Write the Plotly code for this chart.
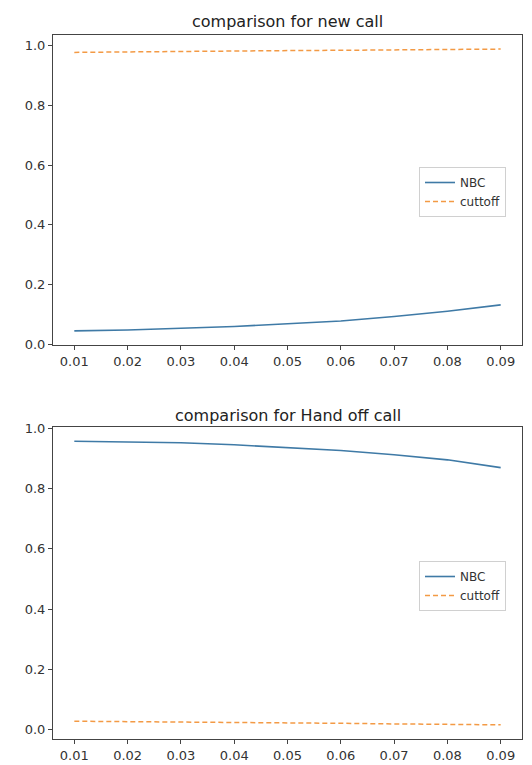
import plotly.graph_objects as go

x_vals = [0.01, 0.02, 0.03, 0.04, 0.05, 0.06, 0.07, 0.08, 0.09]
nbc_new = [0.045, 0.048, 0.054, 0.060, 0.069, 0.078, 0.093, 0.111, 0.132]
cut_new = [0.977, 0.979, 0.980, 0.982, 0.983, 0.984, 0.985, 0.987, 0.988]
nbc_hand = [0.958, 0.956, 0.953, 0.946, 0.936, 0.927, 0.913, 0.896, 0.870]
cut_hand = [0.027, 0.026, 0.024, 0.023, 0.021, 0.020, 0.018, 0.017, 0.015]
x_ticks = [0.01, 0.02, 0.03, 0.04, 0.05, 0.06, 0.07, 0.08, 0.09]
x_tick_text = ["0.01", "0.02", "0.03", "0.04", "0.05", "0.06", "0.07", "0.08", "0.09"]
y_ticks = [0.0, 0.2, 0.4, 0.6, 0.8, 1.0]
y_tick_text = ["0.0", "0.2", "0.4", "0.6", "0.8", "1.0"]
titles = ["comparison for new call", "comparison for Hand off call"]

# page body has a default 8px margin; offset all positions by it
OFF = 8
W, H = 532 - OFF, 765 - OFF
BLUE = "#3f7aa6"
ORANGE = "#f39a45"
FONT = "DejaVu Sans"
AX = "#444444"


def px_x(p):
    return (p - OFF) / W


def px_y(p):
    return 1 - (p - OFF) / H


def mrange(vals, m=0.05):
    lo, hi = min(vals), max(vals)
    s = hi - lo
    return [lo - m * s, hi + m * s]


fig = go.Figure()
fig.add_trace(go.Scatter(x=x_vals, y=nbc_new, mode="lines", name="NBC",
                         line=dict(color=BLUE, width=1.6), xaxis="x", yaxis="y", legend="legend"))
fig.add_trace(go.Scatter(x=x_vals, y=cut_new, mode="lines", name="cuttoff",
                         line=dict(color=ORANGE, width=1.5, dash="5px,3px"), xaxis="x", yaxis="y", legend="legend"))
fig.add_trace(go.Scatter(x=x_vals, y=nbc_hand, mode="lines", name="NBC",
                         line=dict(color=BLUE, width=1.6), xaxis="x2", yaxis="y2", legend="legend2"))
fig.add_trace(go.Scatter(x=x_vals, y=cut_hand, mode="lines", name="cuttoff",
                         line=dict(color=ORANGE, width=1.5, dash="5px,3px"), xaxis="x2", yaxis="y2", legend="legend2"))

xl, xr = px_x(53), px_x(522)
top_dom = [px_y(345), px_y(35)]
bot_dom = [px_y(739), px_y(427)]
xr_range = mrange(x_vals)

axis_common = dict(showline=True, linecolor=AX, linewidth=1, mirror=True, showgrid=False,
                   zeroline=False, ticks="outside", ticklen=4, tickcolor=AX, automargin=False,
                   tickfont=dict(family=FONT, size=13, color="#333333"))

legend_common = dict(xanchor="left", yanchor="top", bgcolor="rgba(255,255,255,0.9)",
                     bordercolor="#d0d0d0", borderwidth=1,
                     font=dict(family=FONT, size=12, color="#333333"),
                     tracegroupgap=0, itemwidth=30)

fig.update_layout(
    width=W, height=H,
    margin=dict(l=0, r=0, t=0, b=0, autoexpand=False),
    paper_bgcolor="white", plot_bgcolor="white",
    xaxis=dict(domain=[xl, xr], anchor="y", range=xr_range, tickvals=x_ticks, ticktext=x_tick_text, **axis_common),
    yaxis=dict(domain=top_dom, anchor="x", range=mrange(nbc_new + cut_new), tickvals=y_ticks, ticktext=y_tick_text, **axis_common),
    xaxis2=dict(domain=[xl, xr], anchor="y2", range=xr_range, tickvals=x_ticks, ticktext=x_tick_text, **axis_common),
    yaxis2=dict(domain=bot_dom, anchor="x2", range=mrange(nbc_hand + cut_hand), tickvals=y_ticks, ticktext=y_tick_text, **axis_common),
    legend=dict(x=px_x(419), y=px_y(167), **legend_common),
    legend2=dict(x=px_x(419), y=px_y(561), **legend_common),
    annotations=[
        dict(text=titles[0], x=(xl + xr) / 2, y=px_y(22), xref="paper", yref="paper",
             xanchor="center", yanchor="middle", showarrow=False,
             font=dict(family=FONT, size=16, color="#222222")),
        dict(text=titles[1], x=(xl + xr) / 2, y=px_y(415), xref="paper", yref="paper",
             xanchor="center", yanchor="middle", showarrow=False,
             font=dict(family=FONT, size=16, color="#222222")),
    ],
)

fig.write_html("out.html")
